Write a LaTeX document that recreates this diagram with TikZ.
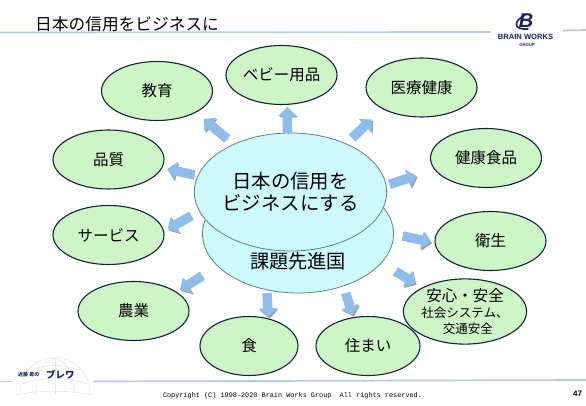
\documentclass[tikz,border=0pt]{standalone}
\usepackage{fontspec}
\setmainfont{Noto Sans CJK JP}
\newfontfamily\latinfont{Liberation Sans}
\newfontfamily\copyfont{Liberation Mono}
\usetikzlibrary{arrows.meta,shapes.geometric}
\definecolor{leaf}{HTML}{CDF5C6}
\definecolor{leafline}{HTML}{10233C}
\definecolor{hub}{HTML}{CCFAFF}
\definecolor{hubline}{HTML}{5F7F86}
\definecolor{bar}{HTML}{B9C8E6}
\definecolor{flow}{HTML}{8FBDEB}
\definecolor{flowshade}{HTML}{9A9DA4}
\definecolor{navy}{HTML}{16235F}
\definecolor{dome}{HTML}{E2E7EA}

\begin{document}
\begin{tikzpicture}[x=1pt,y=-1pt,
    leafnode/.style={ellipse,fill=leaf,draw=leafline,line width=1.1pt,inner sep=0pt,minimum width=111pt,minimum height=59pt,font=\fontsize{15.5}{17}\selectfont,align=center},
    hubnode/.style={ellipse,fill=hub,draw=hubline,line width=0.8pt,inner sep=0pt,minimum width=191pt,minimum height=118pt,font=\fontsize{19.4}{22}\selectfont,align=center},
    flowarrow/.style={line width=9.5pt,draw=flow,-{Triangle[length=9pt,width=18pt]},preaction={draw=flowshade,transform canvas={shift={(1.2pt,-1.4pt)}}}},
    barline/.style={draw=bar,line width=1.7pt}]
  \useasboundingbox[fill=white] (0,0) rectangle (586,406);
  % header and footer
  \node[anchor=west,inner sep=0pt,font=\fontsize{16.7}{18}\selectfont] (title) at (35,24) {日本の信用をビジネスに};
  \coordinate (headl) at (0,32.5);
  \coordinate (headm) at (491,32);
  \coordinate (headn) at (563,30.5);
  \coordinate (headr) at (586,30);
  \draw[barline] (headl) -- (headm);
  \draw[barline] (headn) -- (headr);
  \coordinate (foota) at (0,381.5);
  \coordinate (footb) at (12,381.5);
  \coordinate (footc) at (93,381.5);
  \coordinate (footd) at (586,380);
  \draw[barline] (foota) -- (footb);
  \draw[barline] (footc) -- (footd);
  \node[inner sep=0pt,font=\copyfont\fontsize{6.85}{8}\selectfont] (copy) at (292.5,395.5) {Copyright (C) 1998-2020 Brain Works Group\ \ All rights reserved.};
  \node[inner sep=0pt,font=\latinfont\bfseries\fontsize{8}{9}\selectfont] (page) at (577.5,394) {47};
  % company mark
  \draw[navy,line width=1.6pt,line cap=round] (525,15) .. controls (515,20) and (511,30) .. (528,29);
  \node[inner sep=0pt,text=navy,font=\latinfont\bfseries\itshape\fontsize{20}{20}\selectfont] (markb) at (526,20.5) {B};
  \node[inner sep=0pt,text=navy,font=\latinfont\bfseries\fontsize{7.6}{8}\selectfont] (brain) at (525.5,37) {BRAIN WORKS};
  \node[inner sep=0pt,text=navy,font=\latinfont\bfseries\fontsize{4.2}{5}\selectfont] (group) at (527,45) {GROUP};
  % dome
  \begin{scope}[dome,line width=0.6pt]
    \draw (20,395) .. controls (20,345) and (90,345) .. (90,395);
    \draw (36,395) .. controls (36,347) and (74,347) .. (74,395);
    \draw (55,357.5) -- (55,395);
    \draw (31,370) .. controls (45,364) and (65,364) .. (79,370);
    \draw (22,384) .. controls (40,377) and (70,377) .. (88,384);
    \draw (15,395) .. controls (40,390) and (70,390) .. (93,395);
  \end{scope}
  \node[anchor=west,inner sep=0pt,text=navy,font=\bfseries\fontsize{5}{6}\selectfont] (kondo) at (18,375) {近藤 昇の};
  \node[anchor=west,inner sep=0pt,text=navy,font=\bfseries\fontsize{9.5}{10}\selectfont] (burewa) at (46,374.5) {ブレワ};
  % ovals
  \node[hubnode] (lower) at (298,234) {};
  \node[inner sep=0pt,font=\fontsize{19.2}{22}\selectfont] (kadai) at (298,261) {課題先進国};
  \node[hubnode] (upper) at (290.5,192) {日本の信用を\\ビジネスにする};
  \node[leafnode] (kyoiku) at (157,91) {教育};
  \node[leafnode] (baby) at (281.5,75) {ベビー用品};
  \node[leafnode] (iryo) at (421.5,87.5) {医療健康};
  \node[leafnode] (kenko) at (486,158) {健康食品};
  \node[leafnode] (hinshitsu) at (108.5,159.5) {品質};
  \node[leafnode] (service) at (108.5,235) {サービス};
  \node[leafnode] (nogyo) at (133.5,311) {農業};
  \node[leafnode,minimum width=98pt] (shoku) at (249,346) {食};
  \node[leafnode,minimum width=104pt] (sumai) at (368,346) {住まい};
  \node[leafnode] (eisei) at (490.5,241) {衛生};
  \node[leafnode] (anshin) at (465,311.5) {安心・安全\\[-1pt]{\fontsize{12.5}{15}\selectfont 社会システム、}\\[-1pt]{\fontsize{12.5}{15}\selectfont \ \ 交通安全}};
  % arrows
  \draw[flowarrow,shorten <=8pt,shorten >=10pt] (upper.140.6) -- (kyoiku.-29);
  \draw[flowarrow,shorten <=0pt,shorten >=2pt] (upper.93.4) -- (baby.-79.4);
  \draw[flowarrow,shorten <=8pt,shorten >=15pt] (upper.41.3) -- (iryo.209.8);
  \draw[flowarrow,shorten <=3pt,shorten >=19pt] (upper.4) -- (kenko.193.8);
  \draw[flowarrow,shorten <=3pt,shorten >=5pt] (upper.170.5) -- (hinshitsu.-9.4);
  \draw[flowarrow,shorten <=9pt,shorten >=4pt] (upper.192.6) -- (service.4.9);
  \draw[flowarrow,shorten <=18pt,shorten >=4pt] (lower.202.7) -- (nogyo.24.7);
  \draw[flowarrow,shorten <=3pt,shorten >=1pt] (lower.241.4) -- (shoku.55.1);
  \draw[flowarrow,shorten <=7pt,shorten >=2pt] (lower.-49.6) -- (sumai.117.5);
  \draw[flowarrow,shorten <=9pt,shorten >=4pt] (lower.0) -- (eisei.182.9);
  \draw[flowarrow,shorten <=16pt,shorten >=8pt] (lower.-19.7) -- (anshin.151);
\end{tikzpicture}
\end{document}
